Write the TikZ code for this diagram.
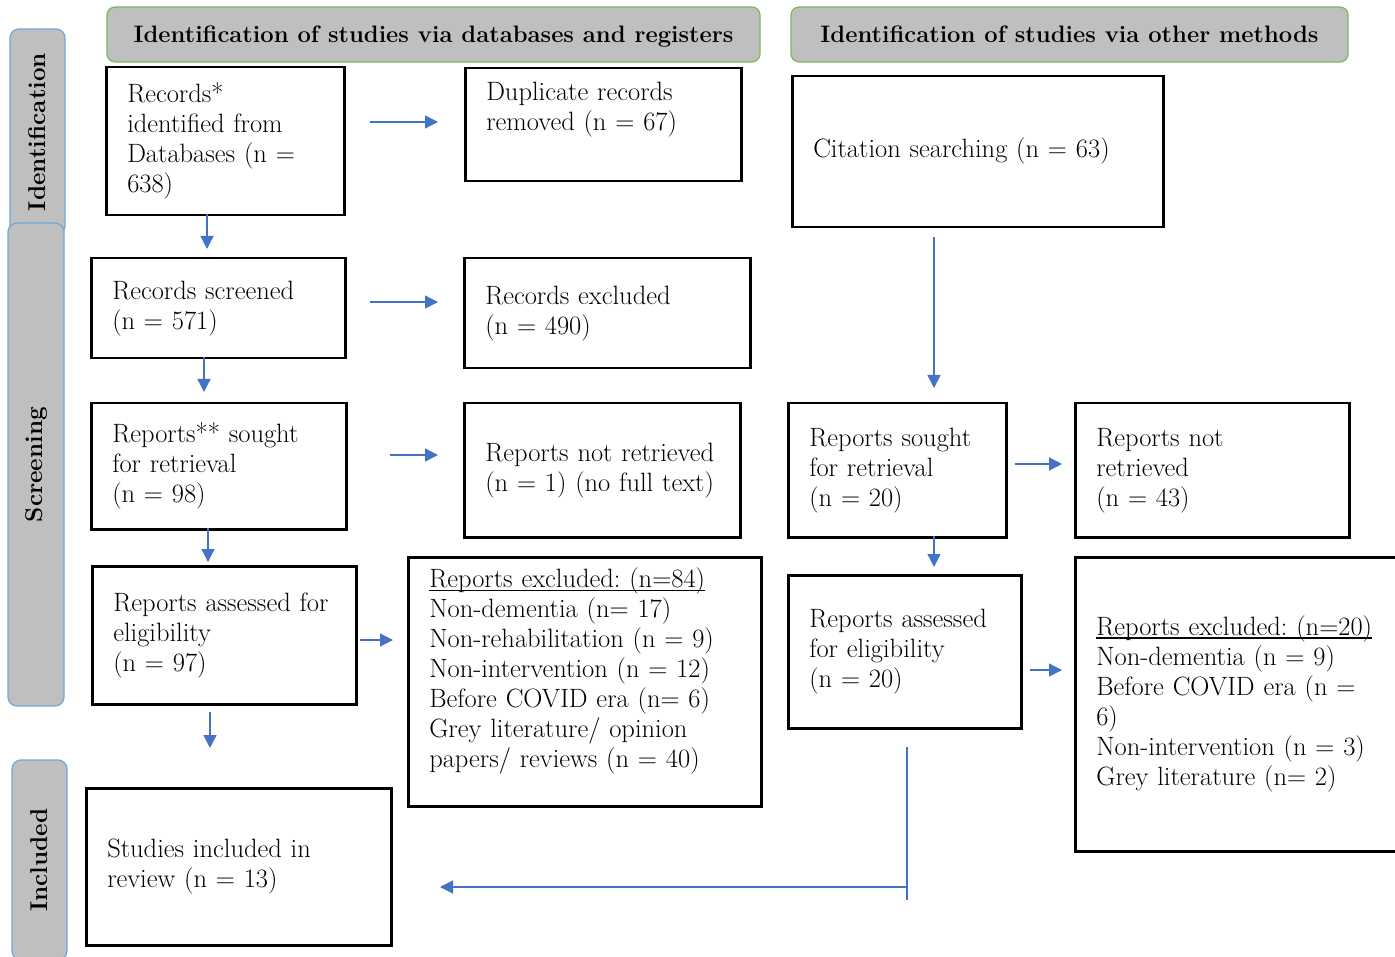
\documentclass[tikz,border=0pt]{standalone}
\usetikzlibrary{arrows.meta}
\definecolor{hdrgray}{HTML}{BFBFBF}
\definecolor{hdrgreen}{HTML}{7FB65A}
\definecolor{sideblue}{HTML}{6FA8DC}
\definecolor{arrblue}{HTML}{4472C4}
\newcommand\fs{\fontsize{26.5}{30}\selectfont\frenchspacing}
\newcommand\hfs{\fontsize{23.8}{26}\selectfont\bfseries}
\newcommand\sfs{\fontsize{24.3}{26}\selectfont\bfseries}
\newcommand\lns[1]{\begin{tabular}{@{}l@{}}#1\end{tabular}}
\newcommand\myul[1]{{\setbox0\hbox{#1}\rlap{\rule[-3.5pt]{\wd0}{1.6pt}}\box0}}
\setlength\parindent{0pt}
\tikzset{
  pbox/.style={draw=black, line width=2.5pt, fill=white, anchor=north west,
    inner xsep=21pt, inner ysep=0pt, align=left, font=\fs},
  hdr/.style={draw=hdrgreen, fill=hdrgray, line width=1.2pt, rounded corners=8pt,
    font=\hfs, inner sep=0pt, text height=17pt, text depth=0pt},
  side/.style={draw=sideblue, fill=hdrgray, line width=1.3pt, rounded corners=9pt,
    font=\sfs, inner sep=0pt, rotate=90},
  arr/.style={draw=arrblue, line width=1.3pt, -{Triangle[length=13pt,width=13pt]}},
  plain/.style={draw=arrblue, line width=1.3pt}
}
\begin{document}
\begin{tikzpicture}[x=1pt,y=-1pt]
\useasboundingbox (0,0) rectangle (1395,957);
% side labels
\node[side, minimum width=206pt, minimum height=55pt] (sid) at (37.5,132) {Identification};
\node[side, minimum width=483pt, minimum height=56pt] (scr) at (36,464.5) {Screening};
\node[side, minimum width=200pt, minimum height=55pt] (inc) at (39.5,860) {Included};
% headers
\node[hdr, minimum width=653pt, minimum height=55pt] (h1) at (433.5,34.5) {Identification of studies via databases and registers};
\node[hdr, minimum width=557pt, minimum height=55pt] (h2) at (1069.5,34.5) {Identification of studies via other methods};
% boxes
\node[pbox, text width=196pt, minimum height=148pt] (b1) at (105,66) {\lns{Records*\\identified from\\Databases (n =\\638)}};
\node[pbox, text width=234pt, minimum height=113pt] (b2) at (464,67) {\lns{Duplicate records\\removed (n = 67)\\ {}}};
\node[pbox, text width=329pt, minimum height=151pt] (b3) at (791,75) {\lns{Citation searching (n = 63)}};
\node[pbox, text width=212pt, minimum height=100pt] (b4) at (90,257) {\lns{Records screened\\(n = 571)}};
\node[pbox, text width=244pt, minimum height=110pt] (b5) at (463,257) {\lns{Records excluded\\(n = 490)}};
\node[pbox, text width=213pt, minimum height=126pt] (b6) at (90,402) {\lns{Reports** sought\\for retrieval\\(n = 98)}};
\node[pbox, text width=234pt, minimum height=134pt] (b7) at (463,402) {\lns{Reports not retrieved\\(n = 1) (no full text)}};
\node[pbox, text width=176pt, minimum height=134pt] (b8) at (787,402) {\lns{Reports sought\\for retrieval\\(n = 20)}};
\node[pbox, text width=232pt, minimum height=134pt] (b9) at (1074,402) {\lns{Reports not\\retrieved\\(n = 43)}};
\node[pbox, text width=222pt, minimum height=138pt] (b10) at (91,565) {\lns{Reports assessed for\\eligibility\\(n = 97)}};
\node[pbox, text width=311pt, minimum height=249pt] (b11) at (407,556) {\lns{\myul{Reports excluded: (n=84)}\\Non-dementia (n= 17)\\Non-rehabilitation (n = 9)\\Non-intervention (n = 12)\\Before COVID era (n= 6)\\Grey literature/ opinion\\papers/ reviews (n = 40)\\[-10pt] {}}};
\node[pbox, text width=191pt, minimum height=153pt] (b12) at (787,574) {\lns{Reports assessed\\for eligibility\\(n = 20)}};
\node[pbox, text width=288pt, minimum height=294pt] (b13) at (1074,556) {\lns{\myul{Reports excluded: (n=20)}\\Non-dementia (n = 9)\\Before COVID era (n =\\6)\\Non-intervention (n = 3)\\Grey literature (n= 2)}};
\node[pbox, text width=263pt, minimum height=157pt] (b14) at (85,787) {\lns{Studies included in\\review (n = 13)}};
% connector end points
\coordinate (a1s) at (207,214); \coordinate (a1e) at (207,249);
\coordinate (a2s) at (370,122); \coordinate (a2e) at (438,122);
\coordinate (a3s) at (370,302); \coordinate (a3e) at (438,302);
\coordinate (a4s) at (204,357); \coordinate (a4e) at (204,392);
\coordinate (a5s) at (390,455); \coordinate (a5e) at (438,455);
\coordinate (a6s) at (208,528); \coordinate (a6e) at (208,562);
\coordinate (a7s) at (360,640); \coordinate (a7e) at (393,640);
\coordinate (a8s) at (210,712); \coordinate (a8e) at (210,748);
\coordinate (a9s) at (934,237); \coordinate (a9e) at (934,388);
\coordinate (a10s) at (1015,464); \coordinate (a10e) at (1062,464);
\coordinate (a11s) at (934,536); \coordinate (a11e) at (934,567);
\coordinate (a12s) at (1030,670); \coordinate (a12e) at (1062,670);
\coordinate (l1s) at (907,747); \coordinate (l1e) at (907,900);
\coordinate (a13s) at (907,887); \coordinate (a13e) at (440,887);
\draw[arr] (a1s) -- (a1e);
\draw[arr] (a2s) -- (a2e);
\draw[arr] (a3s) -- (a3e);
\draw[arr] (a4s) -- (a4e);
\draw[arr] (a5s) -- (a5e);
\draw[arr] (a6s) -- (a6e);
\draw[arr] (a7s) -- (a7e);
\draw[arr] (a8s) -- (a8e);
\draw[arr] (a9s) -- (a9e);
\draw[arr] (a10s) -- (a10e);
\draw[arr] (a11s) -- (a11e);
\draw[arr] (a12s) -- (a12e);
\draw[plain] (l1s) -- (l1e);
\draw[arr] (a13s) -- (a13e);
\end{tikzpicture}
\end{document}
